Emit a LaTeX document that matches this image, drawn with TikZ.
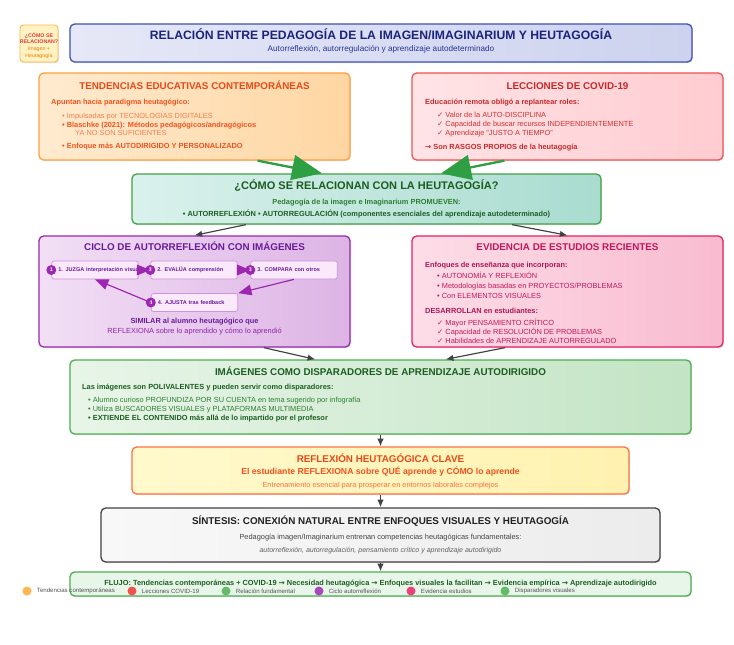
\documentclass[tikz,border=0pt]{standalone}
\usepackage{fontspec}
\setmainfont{Liberation Sans}
\newfontfamily\simbolos{DejaVu Sans}
\usetikzlibrary{arrows.meta,positioning,shadows}

% colores
\definecolor{etqF}{HTML}{FFF3C4}
\definecolor{etqB}{HTML}{FFB74D}
\definecolor{etqT}{HTML}{E53935}
\definecolor{etqS}{HTML}{F57C00}
\definecolor{titF1}{HTML}{E6E8F7}
\definecolor{titF2}{HTML}{CDD2EE}
\definecolor{titB}{HTML}{3F51B5}
\definecolor{titT}{HTML}{1A237E}
\definecolor{titS}{HTML}{283593}
\definecolor{tenF1}{HTML}{FFEBD0}
\definecolor{tenF2}{HTML}{FFD6A2}
\definecolor{tenB}{HTML}{FFA040}
\definecolor{tenT}{HTML}{E64A19}
\definecolor{tenX}{HTML}{F4511E}
\definecolor{tenL}{HTML}{F5804E}
\definecolor{covF1}{HTML}{FFE4E7}
\definecolor{covF2}{HTML}{FFCCD1}
\definecolor{covB}{HTML}{EF5350}
\definecolor{covT}{HTML}{C62828}
\definecolor{covX}{HTML}{D32F2F}
\definecolor{relF1}{HTML}{DAF1EC}
\definecolor{relF2}{HTML}{A9DCD0}
\definecolor{relB}{HTML}{43A047}
\definecolor{relT}{HTML}{1B5E20}
\definecolor{relX}{HTML}{2E7D32}
\definecolor{cicF1}{HTML}{F2DFF5}
\definecolor{cicF2}{HTML}{DDB4E5}
\definecolor{cicB}{HTML}{9C27B0}
\definecolor{cicT}{HTML}{6A1B9A}
\definecolor{cicX}{HTML}{8E24AA}
\definecolor{pasoF}{HTML}{F9E9FB}
\definecolor{pasoB}{HTML}{CE93D8}
\definecolor{eviF1}{HTML}{FDDDE8}
\definecolor{eviF2}{HTML}{F8BBD0}
\definecolor{eviB}{HTML}{E91E63}
\definecolor{eviT}{HTML}{C2185B}
\definecolor{eviX}{HTML}{AD1457}
\definecolor{disF1}{HTML}{E8F5E8}
\definecolor{disF2}{HTML}{C3E4C5}
\definecolor{disB}{HTML}{4CAF50}
\definecolor{claF1}{HTML}{FFF9CC}
\definecolor{claF2}{HTML}{FFF2B0}
\definecolor{claB}{HTML}{FF7043}
\definecolor{sinF1}{HTML}{F8F8F8}
\definecolor{sinF2}{HTML}{ECECEC}
\definecolor{sinB}{HTML}{424242}
\definecolor{sinT}{HTML}{212121}
\definecolor{sinI}{HTML}{616161}
\definecolor{fluF}{HTML}{E8F5E9}
\definecolor{verdeF}{HTML}{2EA043}
\definecolor{gris}{HTML}{424242}
\definecolor{leyT}{HTML}{555555}
\definecolor{leyNar}{HTML}{FFB74D}
\definecolor{leyRoj}{HTML}{EF5350}
\definecolor{leyVer}{HTML}{66BB6A}
\definecolor{leyMor}{HTML}{AB47BC}
\definecolor{leyRos}{HTML}{EC407A}

\newcommand{\chk}{{\simbolos ✓}}
\newcommand{\flecha}{{\simbolos →}}

\tikzset{
  caja/.style={draw, rounded corners=4pt, line width=1.1pt, inner sep=0pt,
    drop shadow={shadow xshift=0.7pt, shadow yshift=-1pt, opacity=0.25}},
  ttl/.style={font=\fontsize{8.4}{10}\selectfont\bfseries, inner sep=0pt, anchor=base},
  txt/.style={font=\fontsize{6.3}{7.6}\selectfont, inner sep=0pt, anchor=base west},
  ctxt/.style={font=\fontsize{6.3}{7.6}\selectfont, inner sep=0pt, anchor=base},
  conector/.style={-{Latex[length=2.3mm,width=1.9mm]}, line width=1pt, draw=gris},
  grueso/.style={-{Triangle[length=9mm,width=7.5mm]}, line width=2pt, draw=verdeF},
  paso/.style={draw=pasoB, fill=pasoF, rounded corners=2pt, line width=0.6pt,
    text width=2.2cm, align=left, inner xsep=0.2cm, inner ysep=0pt,
    minimum height=0.54cm, font=\fontsize{4.7}{5.5}\selectfont\bfseries, text=cicT},
  num/.style={circle, fill=cicB, text=white, minimum size=0.3cm, inner sep=0pt,
    font=\fontsize{4.5}{5}\selectfont\bfseries},
  ciclico/.style={-{Triangle[length=4mm,width=3.2mm]}, line width=1pt, draw=cicB},
  ley/.style={font=\fontsize{5.2}{6}\selectfont, text=leyT, inner sep=0pt}
}

\begin{document}
\begin{tikzpicture}[x=0.03cm, y=-0.03cm]
\useasboundingbox (0,0) rectangle (734,644);

% Cajas principales
\node[caja, draw=etqB, fill=etqF, line width=0.8pt, rounded corners=3pt,
  minimum width=1.14cm, minimum height=1.11cm] (etiqueta) at (39,43.5) {};
\node[caja, draw=titB, left color=titF1, right color=titF2,
  minimum width=18.66cm, minimum height=1.14cm] (titulo) at (381,43) {};
\node[caja, draw=tenB, left color=tenF1, right color=tenF2,
  minimum width=9.33cm, minimum height=2.61cm] (tend) at (194.5,116.5) {};
\node[caja, draw=covB, left color=covF1, right color=covF2,
  minimum width=9.33cm, minimum height=2.61cm] (covid) at (567.5,116.5) {};
\node[caja, draw=relB, left color=relF1, right color=relF2,
  minimum width=14.07cm, minimum height=1.5cm] (rel) at (366.5,199) {};
\node[caja, draw=cicB, left color=cicF1, right color=cicF2,
  minimum width=9.33cm, minimum height=3.33cm] (ciclo) at (194.5,291.5) {};
\node[caja, draw=eviB, left color=eviF1, right color=eviF2,
  minimum width=9.33cm, minimum height=3.33cm] (evid) at (567.5,291.5) {};
\node[caja, draw=disB, left color=disF1, right color=disF2,
  minimum width=18.63cm, minimum height=2.22cm] (disp) at (380.5,397) {};
\node[caja, draw=claB, left color=claF1, right color=claF2,
  minimum width=14.91cm, minimum height=1.41cm] (clave) at (380.5,470.5) {};
\node[caja, draw=sinB, left color=sinF1, right color=sinF2,
  minimum width=16.77cm, minimum height=1.62cm] (sint) at (380.5,535) {};
\node[caja, draw=disB, fill=fluF,
  minimum width=18.63cm, minimum height=0.72cm] (flujo) at (380.5,584) {};

% Etiqueta y titulo
\node[align=center, inner sep=0pt, font=\fontsize{4.5}{5.4}\selectfont\bfseries, text=etqT]
  (etqA) at (39,38) {¿CÓMO SE\\RELACIONAN?};
\node[align=center, inner sep=0pt, font=\fontsize{4.5}{6}\selectfont, text=etqS]
  (etqB) at (39,52.5) {Imagen +\\Heutagogía};
\node[ttl, font=\fontsize{10.4}{12}\selectfont\bfseries, text=titT] (titA) at (381,39.5)
  {RELACIÓN ENTRE PEDAGOGÍA DE LA IMAGEN/IMAGINARIUM Y HEUTAGOGÍA};
\node[ctxt, font=\fontsize{7}{8}\selectfont, text=titS] (titB) at (381,51)
  {Autorreflexión, autorregulación y aprendizaje autodeterminado};

% Tendencias
\node[ttl, text=tenT] (tendT) at (194.5,89.5) {TENDENCIAS EDUCATIVAS CONTEMPORÁNEAS};
\node[txt, text=tenX, font=\fontsize{6.3}{7.6}\selectfont\bfseries] (tendA) at (51,104.5)
  {Apuntan hacia paradigma heutagógico:};
\node[txt, text=tenL] (tendB) at (62,118.5) {• Impulsadas por TECNOLOGÍAS DIGITALES};
\node[txt, text=tenX, font=\fontsize{6.3}{7.6}\selectfont\bfseries] (tendC) at (62,127.5)
  {• Blaschke (2021): Métodos pedagógicos/andragógicos};
\node[txt, text=tenL] (tendD) at (75,135.5) {YA NO SON SUFICIENTES};
\node[txt, text=tenX, font=\fontsize{6.3}{7.6}\selectfont\bfseries] (tendE) at (62,148.5)
  {• Enfoque más AUTODIRIGIDO Y PERSONALIZADO};

% COVID
\node[ttl, text=covT] (covT) at (567.5,89.5) {LECCIONES DE COVID-19};
\node[txt, text=covT, font=\fontsize{6.3}{7.6}\selectfont\bfseries] (covA) at (425,104.5)
  {Educación remota obligó a replantear roles:};
\node[txt, text=covX] (covB) at (437,117.5) {\chk{} Valor de la AUTO-DISCIPLINA};
\node[txt, text=covX] (covC) at (437,126.5) {\chk{} Capacidad de buscar recursos INDEPENDIENTEMENTE};
\node[txt, text=covX] (covD) at (437,135.5) {\chk{} Aprendizaje "JUSTO A TIEMPO"};
\node[txt, text=covT, font=\fontsize{6.3}{7.6}\selectfont\bfseries] (covE) at (425,149.5)
  {\flecha{} Son RASGOS PROPIOS de la heutagogía};

% Relacion
\node[ttl, font=\fontsize{9.4}{11}\selectfont\bfseries, text=relT] (relT) at (366.5,189)
  {¿CÓMO SE RELACIONAN CON LA HEUTAGOGÍA?};
\node[ctxt, text=relX, font=\fontsize{6.3}{7.6}\selectfont\bfseries] (relA) at (366.5,204.5)
  {Pedagogía de la imagen e Imaginarium PROMUEVEN:};
\node[ctxt, text=relT, font=\fontsize{6.3}{7.6}\selectfont\bfseries] (relB) at (366.5,216.5)
  {• AUTORREFLEXIÓN • AUTORREGULACIÓN (componentes esenciales del aprendizaje autodeterminado)};

% Ciclo
\node[ttl, text=cicT] (cicT) at (194.5,250.5) {CICLO DE AUTORREFLEXIÓN CON IMÁGENES};
\node[paso] (s1) at (95,270) {\mbox{1. JUZGA interpretación visual}};
\node[paso] (s2) at (194,270) {\mbox{2. EVALÚA comprensión}};
\node[paso] (s3) at (294,270) {\mbox{3. COMPARA con otros}};
\node[paso] (s4) at (194.5,302.5) {\mbox{4. AJUSTA tras feedback}};
\node[num] (n1) at (s1.west) {1};
\node[num] (n2) at (s2.west) {2};
\node[num] (n3) at (s3.west) {3};
\node[num] (n4) at (s4.west) {4};
\draw[ciclico] (s1.east) -- (s2.west);
\draw[ciclico] (s2.east) -- (s3.west);
\draw[ciclico] (s3.south) -- (s4.north east);
\draw[ciclico] (s4.west) -- (s1.south);
\node[ctxt, text=cicT, font=\fontsize{6.3}{7.6}\selectfont\bfseries] (cicA) at (194.5,323.5)
  {SIMILAR al alumno heutagógico que};
\node[ctxt, text=cicX] (cicB) at (194.5,333.5) {REFLEXIONA sobre lo aprendido y cómo lo aprendió};

% Evidencia
\node[ttl, text=eviT] (eviT) at (567.5,250.5) {EVIDENCIA DE ESTUDIOS RECIENTES};
\node[txt, text=eviX, font=\fontsize{6.3}{7.6}\selectfont\bfseries] (eviA) at (425,267.5)
  {Enfoques de enseñanza que incorporan:};
\node[txt, text=eviT] (eviB) at (437,278.5) {• AUTONOMÍA Y REFLEXIÓN};
\node[txt, text=eviT] (eviC) at (437,288.5) {• Metodologías basadas en PROYECTOS/PROBLEMAS};
\node[txt, text=eviT] (eviD) at (437,298.5) {• Con ELEMENTOS VISUALES};
\node[txt, text=eviX, font=\fontsize{6.3}{7.6}\selectfont\bfseries] (eviE) at (425,313.5)
  {DESARROLLAN en estudiantes:};
\node[txt, text=eviT] (eviF) at (437,325.5) {\chk{} Mayor PENSAMIENTO CRÍTICO};
\node[txt, text=eviT] (eviG) at (437,334.5) {\chk{} Capacidad de RESOLUCIÓN DE PROBLEMAS};
\node[txt, text=eviT] (eviH) at (437,343.5) {\chk{} Habilidades de APRENDIZAJE AUTORREGULADO};

% Disparadores
\node[ttl, text=relT] (disT) at (380.5,375.5) {IMÁGENES COMO DISPARADORES DE APRENDIZAJE AUTODIRIGIDO};
\node[txt, text=relT, font=\fontsize{6.3}{7.6}\selectfont\bfseries] (disA) at (82,389.5)
  {Las imágenes son POLIVALENTES y pueden servir como disparadores:};
\node[txt, text=relX] (disB) at (88,402.5)
  {• Alumno curioso PROFUNDIZA POR SU CUENTA en tema sugerido por infografía};
\node[txt, text=relX] (disC) at (88,411.5) {• Utiliza BUSCADORES VISUALES y PLATAFORMAS MULTIMEDIA};
\node[txt, text=relT, font=\fontsize{6.3}{7.6}\selectfont\bfseries] (disD) at (88,420.5)
  {• EXTIENDE EL CONTENIDO más allá de lo impartido por el profesor};

% Reflexion clave
\node[ttl, text=tenT] (claT) at (380.5,462.5) {REFLEXIÓN HEUTAGÓGICA CLAVE};
\node[ctxt, text=tenX, font=\fontsize{7.4}{9}\selectfont\bfseries] (claA) at (380.5,474)
  {El estudiante REFLEXIONA sobre QUÉ aprende y CÓMO lo aprende};
\node[ctxt, text=claB] (claC) at (380.5,487.5)
  {Entrenamiento esencial para prosperar en entornos laborales complejos};

% Sintesis
\node[ttl, text=sinT] (sinT) at (380.5,524.5)
  {SÍNTESIS: CONEXIÓN NATURAL ENTRE ENFOQUES VISUALES Y HEUTAGOGÍA};
\node[ctxt, text=sinB] (sinA) at (380.5,539.5)
  {Pedagogía imagen/Imaginarium entrenan competencias heutagógicas fundamentales:};
\node[ctxt, text=sinI, font=\fontsize{6}{7}\selectfont\itshape] (sinC) at (380.5,552.5)
  {autorreflexión, autorregulación, pensamiento crítico y aprendizaje autodirigido};

% Flujo
\node[ctxt, text=relT, font=\fontsize{6.3}{7.6}\selectfont\bfseries] (fluT) at (380.5,585.5)
  {FLUJO: Tendencias contemporáneas + COVID-19 \flecha{} Necesidad heutagógica \flecha{} Enfoques visuales la facilitan \flecha{} Evidencia empírica \flecha{} Aprendizaje autodirigido};

% Leyenda
\foreach \px/\col/\etq [count=\i] in {27/leyNar/Tendencias contemporáneas,
    132/leyRoj/Lecciones COVID-19, 226/leyVer/Relación fundamental,
    319/leyMor/Ciclo autorreflexión, 411/leyRos/Evidencia estudios,
    505/leyVer/Disparadores visuales}
{
  \node[circle, fill=\col, minimum size=0.27cm, inner sep=0pt] (punto\i) at (\px,591) {};
  \node[ley, right=0.15cm of punto\i] (ley\i) {\etq};
}

% Conectores
\draw[grueso] (tend.-35) -- (rel.150);
\draw[grueso] (covid.215) -- (rel.19);
\draw[conector] (rel.192) -- (ciclo.north);
\draw[conector] (rel.-10) -- (evid.north);
\draw[conector] (ciclo.-39) -- (disp.150);
\draw[conector] (evid.222) -- (disp.30);
\draw[conector] (disp.south) -- (clave.north);
\draw[conector] (clave.south) -- (sint.north);
\draw[conector] (sint.south) -- (flujo.north);

\end{tikzpicture}
\end{document}
